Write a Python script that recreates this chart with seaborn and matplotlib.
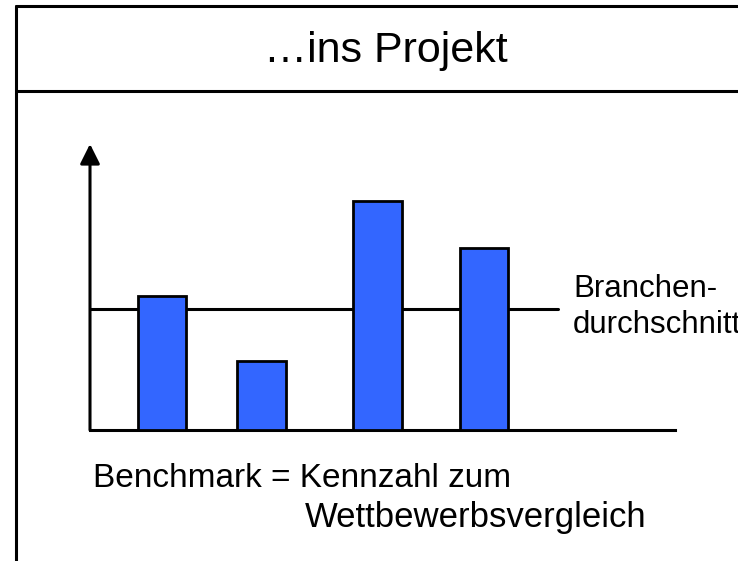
import matplotlib
matplotlib.use("Agg")
import matplotlib.pyplot as plt
from matplotlib.lines import Line2D
import pandas as pd
import seaborn as sns

# bar heights (arbitrary units) and industry average
bar_pos = [0.72, 1.715, 2.875, 3.94]
bar_values = [13.4, 6.9, 22.9, 18.2]
avg_value = 12.1

title_text = "\u2026ins Projekt"
avg_label = ["Branchen-", "durchschnitt"]
note_line1 = "Benchmark = Kennzahl zum"
note_line2 = "Wettbewerbsvergleich"

W, H = 738, 561


def main() -> None:
    sns.set_style("white")
    plt.rcParams["font.family"] = ["Liberation Sans", "DejaVu Sans"]
    plt.rcParams["text.color"] = "black"

    df = pd.DataFrame({"pos": bar_pos, "value": bar_values})

    fig = plt.figure(figsize=(W / 100, H / 100), dpi=100)
    ax = fig.add_axes([90 / W, (H - 430) / H, (675 - 90) / W, (430 - 144) / H])

    sns.barplot(data=df, x="pos", y="value", native_scale=True, width=0.49,
                color="#3366FF", saturation=1, edgecolor="black", linewidth=2,
                ax=ax)
    for p in ax.patches:
        p.set_zorder(3)

    ax.axhline(avg_value, xmin=0, xmax=(558 - 90) / 585, color="black",
               lw=2.2, zorder=1, clip_on=False)

    ax.set_xlim(0, 5.85)
    ax.set_ylim(0, 28.6)
    ax.set_xticks([])
    ax.set_yticks([])
    ax.set_xlabel("")
    ax.set_ylabel("")
    for side in ["top", "right", "left"]:
        ax.spines[side].set_visible(False)
    ax.spines["bottom"].set_color("black")
    ax.spines["bottom"].set_linewidth(2.2)

    # y axis with arrow head
    ax.annotate("", xy=(0, 1), xytext=(0, 0), xycoords="axes fraction",
                arrowprops=dict(arrowstyle="-|>,head_length=0.6,head_width=0.3",
                                lw=2.2, color="black", shrinkA=0, shrinkB=0,
                                mutation_scale=20),
                annotation_clip=False)

    # slide frame
    x0 = 16 / W
    fig.add_artist(Line2D([x0, 1], [1 - 6 / H, 1 - 6 / H], color="black", lw=2.2))
    fig.add_artist(Line2D([x0, 1], [1 - 91 / H, 1 - 91 / H], color="black", lw=2.2))
    fig.add_artist(Line2D([x0, x0], [0, 1 - 6 / H], color="black", lw=2.2))

    fig.text(386 / W, 1 - 62 / H, title_text, fontsize=31, ha="center",
             va="baseline", color="black")
    fig.text(573 / W, 1 - 297 / H, avg_label[0], fontsize=22.5, ha="left",
             va="baseline", color="black")
    fig.text(573 / W, 1 - 333 / H, avg_label[1], fontsize=22.5, ha="left",
             va="baseline", color="black")
    fig.text(93 / W, 1 - 487 / H, note_line1, fontsize=24, ha="left",
             va="baseline", color="black")
    fig.text(305 / W, 1 - 527 / H, note_line2, fontsize=25, ha="left",
             va="baseline", color="black")

    fig.savefig("out.png", dpi=100)


if __name__ == "__main__":
    main()
